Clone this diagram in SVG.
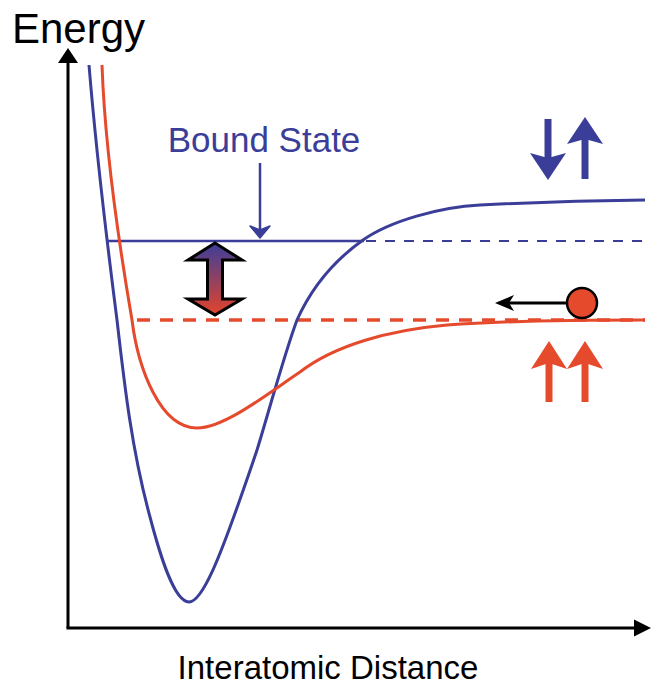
<svg xmlns="http://www.w3.org/2000/svg" width="652" height="687" viewBox="0 0 652 687">
<style>
.lbl{font-family:"Liberation Sans",Arial,sans-serif;}
.blue{stroke:#3a3e98;fill:none;}
.red{stroke:#e64a2c;fill:none;}
.axis{stroke:#000;stroke-width:3;fill:none;}
</style>
<defs>
<linearGradient id="grad" x1="0" y1="0" x2="0" y2="1">
<stop offset="0" stop-color="#3c3e9a"/>
<stop offset="1" stop-color="#e4442a"/>
</linearGradient>
</defs>
<rect width="652" height="687" fill="#fff"/>
<g id="axes">
<line class="axis" x1="68" y1="628" x2="68" y2="60"/>
<polygon points="68,48 58,63 78,63" fill="#000"/>
<line class="axis" x1="66.5" y1="628" x2="636" y2="628"/>
<polygon points="651,628 634,619.5 634,636.5" fill="#000"/>
</g>
<g id="labels">
<text class="lbl" x="12" y="43" font-size="42" fill="#000">Energy</text>
<text class="lbl" x="328" y="679" font-size="33" text-anchor="middle" fill="#000">Interatomic Distance</text>
<text class="lbl" x="264" y="152" font-size="35" text-anchor="middle" fill="#3a3e98">Bound State</text>
</g>
<g id="connectors">
<g id="levels">
<line class="blue" x1="108" y1="241" x2="364" y2="241" stroke-width="2.5"/>
<line class="blue" x1="366" y1="241" x2="645" y2="241" stroke-width="2" stroke-dasharray="10 9"/>
<line class="red" x1="137" y1="320" x2="645" y2="320" stroke-width="3.5" stroke-dasharray="13 10"/>
</g>
<path id="blue-curve" class="blue" stroke-width="3" d="M 89 65 C 96 150, 108 250, 117 320 C 124.5 386, 132 451, 150 517 C 160 555, 174 602, 189 602 C 203 602, 222 550, 238 505 L 238 505 C 244 488, 251 468, 257 450 C 267 418, 284 355, 297 320 C 310.5 290, 332 262, 363 240 C 390 221, 440 207, 480 205 C 540 202, 600 200.5, 645 200"/>
<path id="red-curve" class="red" stroke-width="3" d="M 102 65 C 105 150, 120 250, 132 320 C 138 368, 160 428, 197 428 C 225 428, 270 392, 300 372 C 335 345, 390 330, 447 325 C 500 321, 560 320, 645 320"/>
<g id="bound-arrow">
<line class="blue" x1="260" y1="163" x2="260" y2="232" stroke-width="2.5"/>
<polygon points="260,238 250,226 260,230 270,226" fill="#3a3e98" stroke="#3a3e98" stroke-width="1.5" stroke-linejoin="round"/>
</g>
<g id="transition-arrow">
<path d="M215,243 L242,260 L222.5,260 L222.5,299 L242,299 L215,315 L188,299 L207.5,299 L207.5,260 L188,260 Z" fill="url(#grad)" stroke="#000" stroke-width="3" stroke-linejoin="miter"/>
</g>
<g id="ball-arrow">
<line x1="567" y1="303" x2="502" y2="303" stroke="#000" stroke-width="3"/>
<polygon points="495,303 514,295 509,303 514,311" fill="#000"/>
</g>
</g>
<g id="spins-singlet">
<line x1="548" y1="119" x2="548" y2="160" stroke="#3a3e98" stroke-width="7"/>
<polygon points="548,180 530,153 548,158 566,153" fill="#3a3e98"/>
<line x1="585" y1="138" x2="585" y2="179" stroke="#3a3e98" stroke-width="7"/>
<polygon points="585,117 567,144 585,139 603,144" fill="#3a3e98"/>
</g>
<g id="spins-triplet">
<line x1="549" y1="360" x2="549" y2="402" stroke="#e64a2c" stroke-width="7"/>
<polygon points="549,341 531,369 549,363 567,369" fill="#e64a2c"/>
<line x1="585" y1="360" x2="585" y2="402" stroke="#e64a2c" stroke-width="7"/>
<polygon points="585,341 567,369 585,363 603,369" fill="#e64a2c"/>
</g>
<g id="ball">
<circle cx="582" cy="303" r="15" fill="#e64a2c" stroke="#000" stroke-width="2.5"/>
</g>
</svg>
